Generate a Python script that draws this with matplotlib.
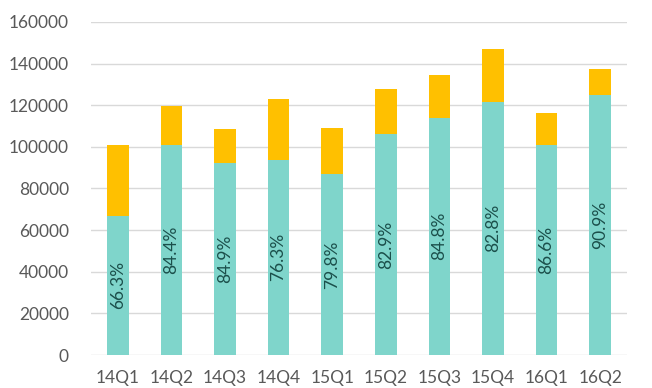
import matplotlib.pyplot as plt

# quarters, total value and share of the teal part (%)
quarters = ["14Q1", "14Q2", "14Q3", "14Q4", "15Q1", "15Q2", "15Q3", "15Q4", "16Q1", "16Q2"]
totals = [101000, 119600, 108600, 123000, 109000, 127800, 134500, 147000, 116300, 137400]
shares = [66.3, 84.4, 84.9, 76.3, 79.8, 82.9, 84.8, 82.8, 86.6, 90.9]

teal = [t * s / 100 for t, s in zip(totals, shares)]
rest = [t - b for t, b in zip(totals, teal)]

plt.rcParams['font.family'] = ['Lato', 'DejaVu Sans']

fig = plt.figure(figsize=(6.52, 3.88), dpi=100)
ax = fig.add_axes([91 / 652, 1 - 355 / 388, 536 / 652, 333 / 388])

x = range(len(quarters))
ax.bar(x, teal, width=0.4, color="#7fd5cb", zorder=2)
ax.bar(x, rest, width=0.4, bottom=teal, color="#ffc000", zorder=2)

for i, (b, s) in enumerate(zip(teal, shares)):
    ax.text(i, b / 2, f"{s:.1f}%", rotation=90, ha="center", va="center",
            fontsize=12.5, color="#1b4f4b", zorder=3)

ax.set_xlim(-0.5, len(quarters) - 0.5)
ax.set_ylim(0, 160000)
ax.set_yticks(range(0, 160001, 20000))
ax.set_xticks(list(x))
ax.set_xticklabels(quarters)
ax.tick_params(length=0, labelsize=12.5, labelcolor="#595959")
ax.tick_params(axis="y", pad=16)
ax.tick_params(axis="x", pad=11)
ax.grid(axis="y", color="#d9d9d9", linewidth=1, zorder=0)
for sp in ax.spines.values():
    sp.set_visible(False)

plt.savefig("out.png", dpi=100)
